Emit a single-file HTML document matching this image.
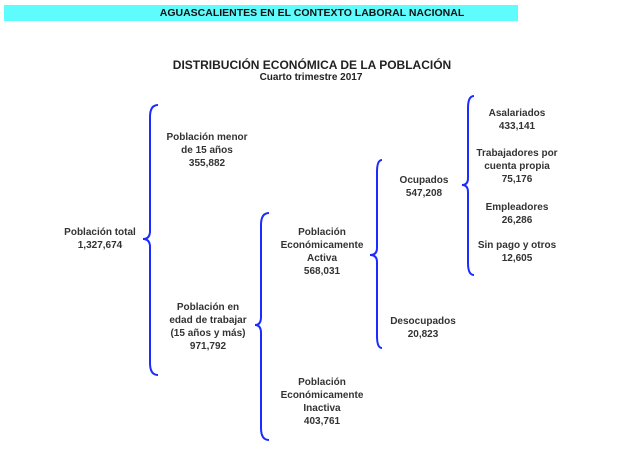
<!DOCTYPE html>
<html><head><meta charset="utf-8"><style>
body{margin:0;width:622px;height:457px;background:#fff;overflow:hidden;position:relative;font-family:"Liberation Sans",Arial,sans-serif;}
.b{position:absolute;left:4px;top:5px;width:514px;height:16px;background:#5ffcfd;}
.bt{position:absolute;left:312px;top:5px;transform:translateX(-50%);font-weight:bold;font-size:10.5px;line-height:17px;color:#111;white-space:nowrap;}
.t{position:absolute;font-weight:bold;font-size:10px;line-height:13px;text-align:center;color:#333;white-space:nowrap;transform:translateX(-50%);}
svg{position:absolute;left:0;top:0;}
</style></head><body>
<div class="b"></div>
<div class="bt">AGUASCALIENTES EN EL CONTEXTO LABORAL NACIONAL</div>
<div class="t" style="left:312px;top:58px;font-size:12px;line-height:14px;color:#222">DISTRIBUCIÓN ECONÓMICA DE LA POBLACIÓN</div>
<div class="t" style="left:311px;top:72px;font-size:10px;line-height:12px;color:#222">Cuarto trimestre 2017</div>
<svg width="622" height="457" fill="none" stroke="#1a2cff" stroke-width="2">
<path d="M158,105 Q150,105 150,117 L150,231 Q150,239 143,239 Q150,239 150,247 L150,363 Q150,375 158,375"/>
<path d="M269,213 Q261,213 261,225 L261,317 Q261,325 255,325 Q261,325 261,333 L261,428 Q261,440 269,440"/>
<path d="M382,160 Q377,160 377,172 L377,248 Q377,255 370,255 Q377,255 377,262 L377,336 Q377,348 382,348"/>
<path d="M474,96 Q468,96 468,108 L468,178 Q468,185 462,185 Q468,185 468,192 L468,263 Q468,275 474,275"/>
</svg>
<div class="t" style="left:100px;top:226px">Población total<br>1,327,674</div>
<div class="t" style="left:207px;top:131px">Población menor<br>de 15 años<br>355,882</div>
<div class="t" style="left:208px;top:301px">Población en<br>edad de trabajar<br>(15 años y más)<br>971,792</div>
<div class="t" style="left:322px;top:226px">Población<br>Económicamente<br>Activa<br>568,031</div>
<div class="t" style="left:322px;top:376px">Población<br>Económicamente<br>Inactiva<br>403,761</div>
<div class="t" style="left:424px;top:174px">Ocupados<br>547,208</div>
<div class="t" style="left:423px;top:315px">Desocupados<br>20,823</div>
<div class="t" style="left:517px;top:107px">Asalariados<br>433,141</div>
<div class="t" style="left:517px;top:147px">Trabajadores por<br>cuenta propia<br>75,176</div>
<div class="t" style="left:517px;top:201px">Empleadores<br>26,286</div>
<div class="t" style="left:517px;top:239px">Sin pago y otros<br>12,605</div>
</body></html>
